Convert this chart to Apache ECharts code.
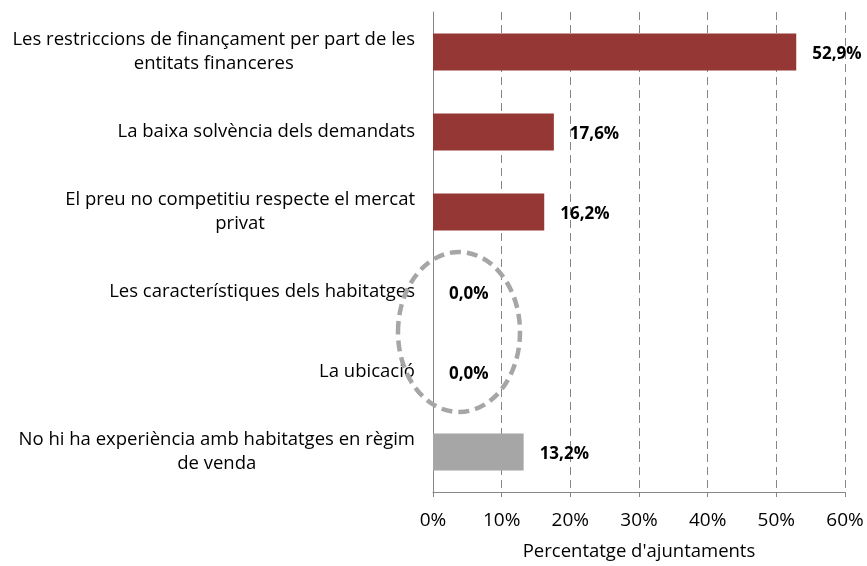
<!DOCTYPE html>
<html>
<head>
    <meta charset="utf-8">
    <title>Percentatge d'ajuntaments</title>
    <script src="https://cdnjs.cloudflare.com/ajax/libs/echarts/6.0.0/echarts.min.js"></script>
    <style>
        html, body { margin: 0; padding: 0; background: #fff; }
        #chart { width: 867px; height: 566px; }
    </style>
</head>
<body>
    <div id="chart"></div>
    <script>
        // categories, top to bottom
        const categories = [
            'Les restriccions de finançament per part de les\nentitats financeres',
            'La baixa solvència dels demandats',
            'El preu no competitiu respecte el mercat\nprivat',
            'Les característiques dels habitatges',
            'La ubicació',
            'No hi ha experiència amb habitatges en règim\nde venda'
        ];
        const values = [52.9, 17.6, 16.2, 0.0, 0.0, 13.2];
        const barColors = ['#953735', '#953735', '#953735', '#953735', '#953735', '#a6a6a6'];
        const xTicks = [0, 10, 20, 30, 40, 50, 60];

        const fontFam = 'Open Sans';
        const gridCol = '#868686';

        const chart = echarts.init(document.getElementById('chart'));
        const option = {
            animation: false,
            grid: { left: 433, right: 22, top: 12, bottom: 71 },
            xAxis: {
                type: 'value',
                min: xTicks[0],
                max: xTicks[xTicks.length - 1],
                interval: 10,
                name: "Percentatge d'ajuntaments",
                nameLocation: 'middle',
                nameGap: 50,
                nameTextStyle: { fontFamily: fontFam, fontSize: 18.5, color: '#000' },
                axisLine: { show: true, lineStyle: { color: gridCol, width: 1 } },
                axisTick: { show: true, length: 5, lineStyle: { color: gridCol } },
                axisLabel: {
                    formatter: '{value}%',
                    fontFamily: fontFam, fontSize: 19, color: '#000', margin: 19
                },
                splitLine: {
                    show: true,
                    lineStyle: { color: gridCol, type: [8, 5], width: 1 }
                }
            },
            yAxis: {
                type: 'category',
                inverse: true,
                data: categories,
                axisLine: { show: true, lineStyle: { color: gridCol, width: 1 } },
                axisTick: { show: false },
                axisLabel: {
                    margin: 18,
                    formatter: function (v) {
                        return v.split('\n').map(s => '{c|' + s + '}').join('\n');
                    },
                    rich: {
                        c: { align: 'center', fontFamily: fontFam, fontSize: 18.5, color: '#000', lineHeight: 24 }
                    }
                }
            },
            series: [{
                type: 'bar',
                barWidth: 37,
                data: values.map((v, i) => ({ value: v, itemStyle: { color: barColors[i] } })),
                label: {
                    show: true,
                    position: 'right',
                    distance: 16,
                    offset: [0, 2],
                    fontFamily: fontFam,
                    fontSize: 17,
                    fontWeight: 'bold',
                    color: '#000',
                    formatter: p => p.value.toFixed(1).replace('.', ',') + '%'
                }
            }],
            graphic: [{
                type: 'ellipse',
                shape: { cx: 459, cy: 332, rx: 61, ry: 80 },
                style: { fill: 'none', stroke: '#a6a6a6', lineWidth: 4.5, lineDash: [11, 6] },
                z: 100
            }]
        };
        chart.setOption(option);
    </script>
</body>
</html>
